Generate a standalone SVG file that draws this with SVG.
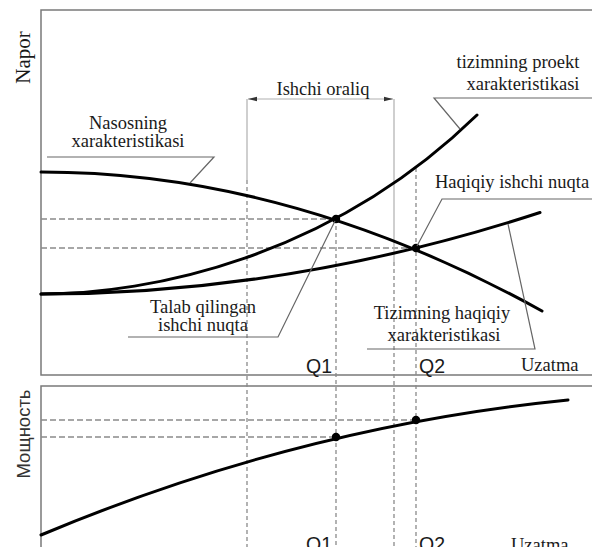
<svg xmlns="http://www.w3.org/2000/svg" width="592" height="547" viewBox="0 0 592 547">
<defs>
<style>
.frame{stroke:#7a7a7a;stroke-width:1.5;fill:none}
.dash{stroke:#8a8a8a;stroke-width:1.3;fill:none;stroke-dasharray:6 3}
.vdash{stroke:#8a8a8a;stroke-width:1.3;fill:none;stroke-dasharray:4 3}
.guide{stroke:#b0b0b0;stroke-width:1.2;fill:none}
.curve{stroke:#000;stroke-width:3;fill:none;stroke-linecap:round}
.lead{stroke:#666;stroke-width:1.2;fill:none}
.serif{font-family:"Liberation Serif","Times New Roman",serif;font-size:18.5px;fill:#1a1a1a}
.sans{font-family:"Liberation Sans",Arial,sans-serif;font-size:19.5px;fill:#1a1a1a}
.dot{fill:#000}
</style>
<marker id="arr" markerWidth="10" markerHeight="6" refX="9" refY="3" orient="auto" markerUnits="userSpaceOnUse">
<path d="M0,0.8 L9,3 L0,5.2 Z" fill="#333"/>
</marker>
</defs>
<rect width="592" height="547" fill="#fff"/>

<g id="frames">
<path class="frame" d="M592,10 H41 V375 H592"/>
<path class="frame" d="M592,386 H41 V547"/>
</g>

<g id="guides">
<path class="dash" d="M41,219 H336 M41,248 H416"/>
<path class="dash" d="M41,420 H416 M41,437 H336"/>
<path class="guide" d="M247,99 V180 M394,99 V262"/>
<path class="vdash" d="M247,180 V547 M394,262 V547 M336,219 V547 M416,168 V547"/>
</g>

<g id="ishchi-oraliq">
<line x1="320" y1="99" x2="248" y2="99" class="guide" stroke="#999" marker-end="url(#arr)"/>
<line x1="320" y1="99" x2="393" y2="99" class="guide" stroke="#999" marker-end="url(#arr)"/>
<text class="serif" x="323" y="95" text-anchor="middle">Ishchi oraliq</text>
</g>

<g id="curves">
<path id="pump-curve" class="curve" d="M41,172 Q291,172 542,311"/>
<path id="design-system-curve" class="curve" d="M41,294 C150,294 330,258 477,115"/>
<path id="actual-system-curve" class="curve" d="M41,294 Q290.5,294 540,212.5"/>
<path id="power-curve" class="curve" d="M41,535 Q298,427 568,400"/>
</g>

<g id="points">
<circle class="dot" cx="336" cy="219" r="4.2"/>
<circle class="dot" cx="416" cy="248" r="4.2"/>
<circle class="dot" cx="336" cy="437" r="4.2"/>
<circle class="dot" cx="416" cy="420" r="4.2"/>
</g>

<g id="connectors">
<path class="lead" d="M47,157 H214 L190,183"/>
<path class="lead" d="M592,98 H434 L460,129"/>
<path class="lead" d="M592,199 H442 L417,246"/>
<path class="lead" d="M128,337 H278 L335,221"/>
<path class="lead" d="M367,349 H535 L508,224"/>
</g>

<g id="label-napor">
<text class="serif" style="font-size:21px" transform="translate(30,57.5) rotate(-90)" text-anchor="middle">Napor</text>
</g>
<g id="label-moshchnost">
<text class="sans" style="font-size:18.5px;fill:#333" transform="translate(30,434) rotate(-90)" text-anchor="middle">Мощность</text>
</g>
<g id="label-nasos">
<text class="serif" x="128" y="129" text-anchor="middle">Nasosning</text>
<text class="serif" x="128" y="147" text-anchor="middle">xarakteristikasi</text>
</g>
<g id="label-proekt">
<text class="serif" x="518" y="68" text-anchor="middle">tizimning proekt</text>
<text class="serif" x="523" y="90" text-anchor="middle">xarakteristikasi</text>
</g>
<g id="label-haqiqiy-nuqta">
<text class="serif" x="435" y="188">Haqiqiy ishchi nuqta</text>
</g>
<g id="label-talab">
<text class="serif" x="203" y="313" text-anchor="middle">Talab qilingan</text>
<text class="serif" x="203" y="331" text-anchor="middle">ishchi nuqta</text>
</g>
<g id="label-tizim-haqiqiy">
<text class="serif" x="442" y="319" text-anchor="middle">Tizimning haqiqiy</text>
<text class="serif" x="444" y="341" text-anchor="middle">xarakteristikasi</text>
</g>
<g id="axis-labels">
<text class="sans" x="306" y="373">Q1</text>
<text class="sans" x="419" y="373">Q2</text>
<text class="serif" x="521" y="371">Uzatma</text>
<text class="sans" x="306" y="551">Q1</text>
<text class="sans" x="419" y="551">Q2</text>
<text class="serif" x="511" y="551">Uzatma</text>
</g>
</svg>
